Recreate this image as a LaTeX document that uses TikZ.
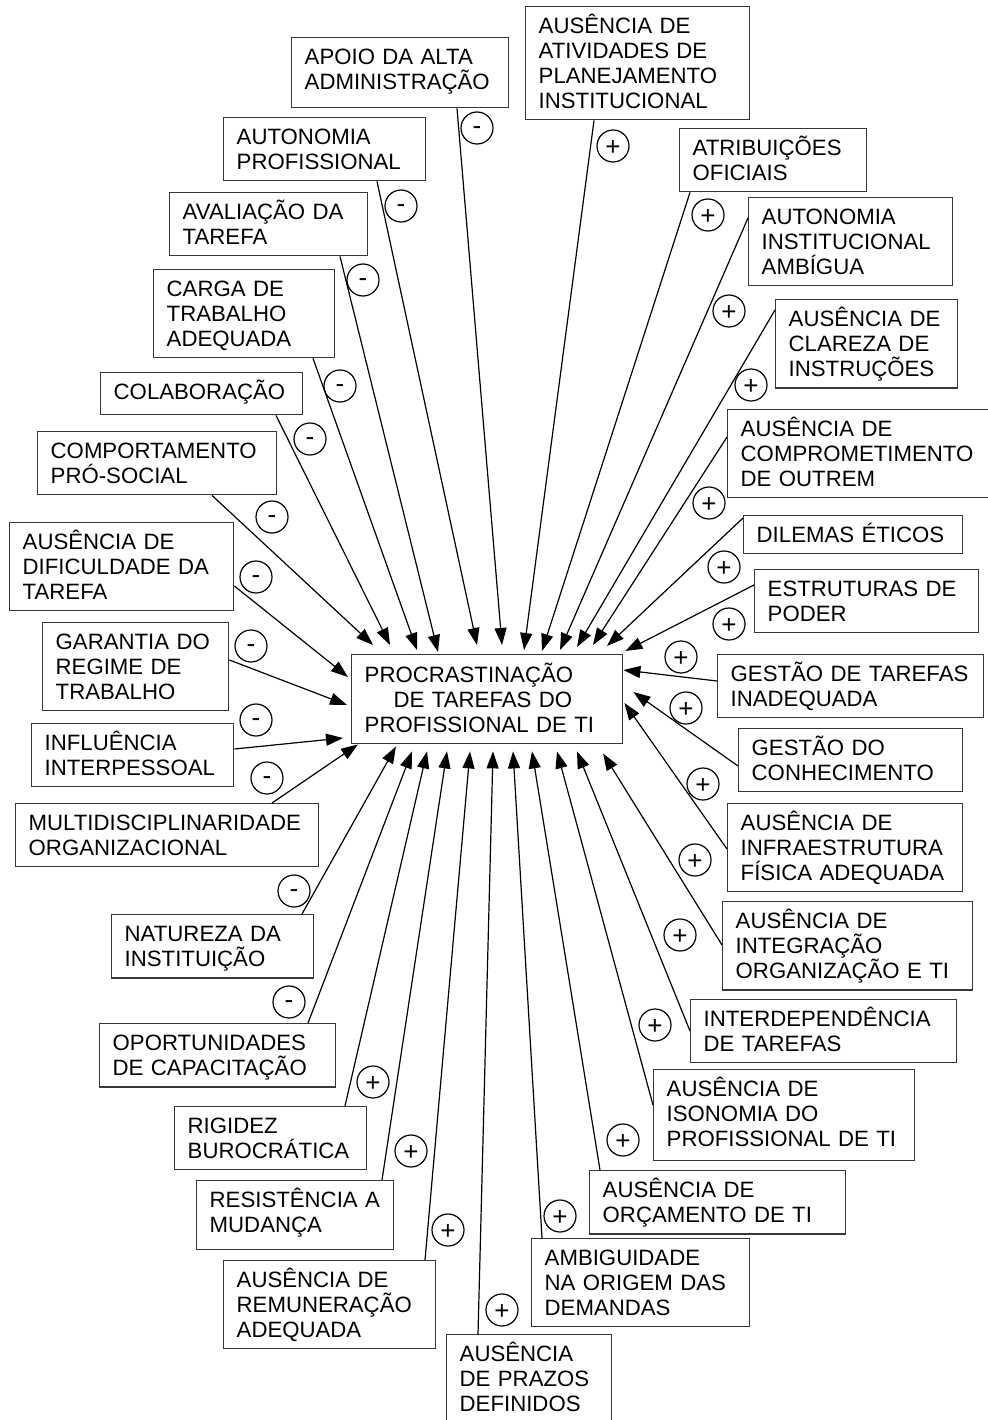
\documentclass[tikz,border=0pt]{standalone}
\usepackage{fontspec}
\setmainfont{Liberation Sans}
\usetikzlibrary{arrows.meta}
\hyphenpenalty=10000
\exhyphenpenalty=10000
\definecolor{frame}{RGB}{55,55,55}
\tikzset{
  box/.style={draw=frame, line width=1.4pt, fill=white, rectangle, anchor=north west,
    inner xsep=13pt, inner ysep=6.5pt, align=left,
    font=\fontsize{22.2}{25}\selectfont,
    execute at begin node={\rule{0pt}{20.5pt}},
    execute at end node={\rule[-4.5pt]{0pt}{4.5pt}}},
  % box whose text sits at the top with extra room underneath
  padbox/.style={box, execute at end node={\rule[-#1]{0pt}{#1}}},
  sign/.style={draw, circle, line width=1.2pt, minimum size=32pt, inner sep=0pt,
    font=\fontsize{26}{26}\selectfont, text depth=0pt},
  plussign/.style={sign, text height=18.4pt},
  minussign/.style={sign, text height=13.7pt},
  arr/.style={line width=1.2pt, -{Triangle[length=17pt,width=12pt]}},
}
\begin{document}
\begin{tikzpicture}[x=1pt, y=-1pt]
\path[fill=white] (0,0) rectangle (987,1420);
\useasboundingbox (0,0) rectangle (987,1420);

% central effect
\node[box, text width=245pt, minimum height=89pt] (c) at (351,654)
  {PROCRASTINAÇÃO\\\hspace*{29pt}DE~TAREFAS~DO\\PROFISSIONAL~DE~TI};

% factors that reduce procrastination (left and top-left)
\node[padbox=11.5pt, text width=191pt] (apoio) at (291,37) {APOIO~DA~ALTA\\ADMINISTRAÇÃO};
\node[box, text width=176pt] (autprof) at (223,117) {AUTONOMIA\\PROFISSIONAL};
\node[box, text width=172pt] (aval) at (169,192) {AVALIAÇÃO~DA\\TAREFA};
\node[box, text width=155pt] (carga) at (153,269) {CARGA~DE\\TRABALHO\\ADEQUADA};
\node[padbox=8.5pt, text width=176pt] (colab) at (100,372) {COLABORAÇÃO};
\node[box, text width=213pt] (comport) at (37,431) {COMPORTAMENTO\\PRÓ-SOCIAL};
\node[box, text width=198pt] (dific) at (9,522) {AUSÊNCIA~DE\\DIFICULDADE~DA\\TAREFA};
\node[box, text width=160pt] (garantia) at (42,622) {GARANTIA~DO\\REGIME~DE\\TRABALHO};
\node[box, text width=176pt] (influ) at (31,723) {INFLUÊNCIA\\INTERPESSOAL};
\node[box, text width=277pt] (multi) at (15,803) {MULTIDISCIPLINARIDADE\\ORGANIZACIONAL};
\node[box, text width=176pt] (natureza) at (111,914) {NATUREZA~DA\\INSTITUIÇÃO};
\node[box, text width=210pt] (oport) at (99,1023) {OPORTUNIDADES\\DE~CAPACITAÇÃO};

% factors that increase procrastination
\node[box, text width=166pt] (rigidez) at (174,1106) {RIGIDEZ\\BUROCRÁTICA};
\node[padbox=10.5pt, text width=171pt] (resist) at (196,1180) {RESISTÊNCIA~A\\MUDANÇA};
\node[box, text width=186pt] (remun) at (223,1260) {AUSÊNCIA~DE\\REMUNERAÇÃO\\ADEQUADA};
\node[box, text width=139pt] (prazos) at (446,1334) {AUSÊNCIA\\DE~PRAZOS\\DEFINIDOS};
\node[box, text width=192pt] (ambig) at (531,1238) {AMBIGUIDADE\\NA~ORIGEM~DAS\\DEMANDAS};
\node[box, text width=230pt] (orcam) at (589,1170) {AUSÊNCIA~DE\\ORÇAMENTO~DE~TI};
\node[padbox=7.5pt, text width=235pt] (isonomia) at (653,1069) {AUSÊNCIA~DE\\ISONOMIA~DO\\PROFISSIONAL~DE~TI};
\node[box, text width=240pt] (interdep) at (690,999) {INTERDEPENDÊNCIA\\DE~TAREFAS};
\node[box, text width=224pt] (integr) at (722,901) {AUSÊNCIA~DE\\INTEGRAÇÃO\\ORGANIZAÇÃO~E~TI};
\node[box, text width=209pt] (infra) at (727,803) {AUSÊNCIA~DE\\INFRAESTRUTURA\\FÍSICA~ADEQUADA};
\node[box, text width=198pt] (gconh) at (738,728) {GESTÃO~DO\\CONHECIMENTO};
\node[box, text width=240pt] (gtarefas) at (717,654) {GESTÃO~DE~TAREFAS\\INADEQUADA};
\node[box, text width=198pt] (estrut) at (754,569) {ESTRUTURAS~DE\\PODER};
\node[box, text width=193pt] (dilemas) at (743,515) {DILEMAS~ÉTICOS};
\node[box, text width=236pt] (comprom) at (727,409) {AUSÊNCIA~DE\\COMPROMETIMENTO\\DE~OUTREM};
\node[box, text width=156pt] (clareza) at (775,299) {AUSÊNCIA~DE\\CLAREZA~DE\\INSTRUÇÕES};
\node[box, text width=178pt] (autinst) at (748,197) {AUTONOMIA\\INSTITUCIONAL\\AMBÍGUA};
\node[box, text width=161pt] (atrib) at (679,128) {ATRIBUIÇÕES\\OFICIAIS};
\node[box, text width=198pt] (ativ) at (525,6) {AUSÊNCIA~DE\\ATIVIDADES~DE\\PLANEJAMENTO\\INSTITUCIONAL};

% influence links
\draw[arr] ([xshift=166pt]apoio.south west) -- ([xshift=151pt,yshift=9pt]c.north west);
\draw[arr] ([xshift=154pt]autprof.south west) -- ([xshift=126pt,yshift=9pt]c.north west);
\draw[arr] ([xshift=171pt]aval.south west) -- ([xshift=87pt,yshift=2pt]c.north west);
\draw[arr] ([xshift=160pt]carga.south west) -- ([xshift=66pt,yshift=4pt]c.north west);
\draw[arr] ([xshift=176pt]colab.south west) -- ([xshift=39pt,yshift=9pt]c.north west);
\draw[arr] ([xshift=175pt]comport.south west) -- ([xshift=22pt,yshift=9pt]c.north west);
\draw[arr] ([yshift=-64pt]dific.north east) -- ([xshift=-3pt,yshift=-23pt]c.north west);
\draw[arr] ([yshift=-38pt]garantia.north east) -- ([xshift=-4pt,yshift=-51pt]c.north west);
\draw[arr] ([yshift=-26pt]influ.north east) -- ([xshift=-8pt,yshift=-84pt]c.north west);
\draw[arr] ([xshift=257pt]multi.north west) -- ([xshift=7pt]c.south west);
\draw[arr] ([xshift=191pt]natureza.north west) -- ([xshift=45pt,yshift=-2pt]c.south west);
\draw[arr] ([xshift=209pt]oport.north west) -- ([xshift=61pt,yshift=-7pt]c.south west);
\draw[arr] ([xshift=171pt]rigidez.north west) -- ([xshift=76pt,yshift=-7pt]c.south west);
\draw[arr] ([xshift=186pt]resist.north west) -- ([xshift=96pt,yshift=-7pt]c.south west);
\draw[arr] ([xshift=202pt]remun.north west) -- ([xshift=119pt,yshift=-7pt]c.south west);
\draw[arr] ([xshift=32pt]prazos.north west) -- ([xshift=142pt,yshift=-7pt]c.south west);
\draw[arr] ([xshift=11pt]ambig.north west) -- ([xshift=162pt,yshift=-7pt]c.south west);
\draw[arr] ([xshift=11pt]orcam.north west) -- ([xshift=181pt,yshift=-7pt]c.south west);
\draw[arr] ([yshift=-36pt]isonomia.north west) -- ([xshift=206pt,yshift=-7pt]c.south west);
\draw[arr] ([yshift=-32pt]interdep.north west) -- ([xshift=226pt,yshift=-7pt]c.south west);
\draw[arr] ([yshift=-44pt]integr.north west) -- ([xshift=252pt,yshift=-9pt]c.south west);
\draw[arr] ([yshift=-46pt]infra.north west) -- ([xshift=1pt,yshift=-49pt]c.north east);
\draw[arr] ([yshift=-38pt]gconh.north west) -- ([xshift=10pt,yshift=-38pt]c.north east);
\draw[arr] ([yshift=-27pt]gtarefas.north west) -- ([yshift=-16pt]c.north east);
\draw[arr] ([yshift=-16pt]estrut.north west) -- ([xshift=2pt,yshift=3pt]c.north east);
\draw[arr] ([yshift=-3pt]dilemas.north west) -- ([xshift=256pt,yshift=8pt]c.north west);
\draw[arr] ([yshift=-28pt]comprom.north west) -- ([xshift=242pt,yshift=9pt]c.north west);
\draw[arr] ([yshift=-11pt]clareza.north west) -- ([xshift=226pt,yshift=7pt]c.north west);
\draw[arr] ([yshift=-21pt]autinst.north west) -- ([xshift=209pt,yshift=4pt]c.north west);
\draw[arr] ([xshift=11pt]atrib.south west) -- ([xshift=191pt,yshift=3pt]c.north west);
\draw[arr] ([xshift=69pt]ativ.south west) -- ([xshift=173pt,yshift=4pt]c.north west);

% polarity marks
\node[minussign] (s-apoio) at (477,128) {-};
\node[minussign] (s-autprof) at (401,206) {-};
\node[minussign] (s-aval) at (363,280) {-};
\node[minussign] (s-carga) at (340,386) {-};
\node[minussign] (s-colab) at (310,439) {-};
\node[minussign] (s-comport) at (272,517) {-};
\node[minussign] (s-dific) at (256,577) {-};
\node[minussign] (s-garantia) at (251,646) {-};
\node[minussign] (s-influ) at (256,720) {-};
\node[minussign] (s-multi) at (267,778) {-};
\node[minussign] (s-natureza) at (294,891) {-};
\node[minussign] (s-oport) at (289,1002) {-};
\node[plussign] (s-rigidez) at (373,1082) {+};
\node[plussign] (s-resist) at (411,1151) {+};
\node[plussign] (s-remun) at (448,1230) {+};
\node[plussign] (s-prazos) at (502,1310) {+};
\node[plussign] (s-ambig) at (560,1216) {+};
\node[plussign] (s-orcam) at (623,1140) {+};
\node[plussign] (s-isonomia) at (655,1025) {+};
\node[plussign] (s-interdep) at (680,935) {+};
\node[plussign] (s-integr) at (695,860) {+};
\node[plussign] (s-infra) at (703,784) {+};
\node[plussign] (s-gconh) at (686,708) {+};
\node[plussign] (s-gtarefas) at (681,657) {+};
\node[plussign] (s-estrut) at (729,624) {+};
\node[plussign] (s-dilemas) at (724,567) {+};
\node[plussign] (s-comprom) at (709,503) {+};
\node[plussign] (s-clareza) at (751,385) {+};
\node[plussign] (s-autinst) at (729,311) {+};
\node[plussign] (s-atrib) at (708,215) {+};
\node[plussign] (s-ativ) at (613,146) {+};
\end{tikzpicture}
\end{document}
